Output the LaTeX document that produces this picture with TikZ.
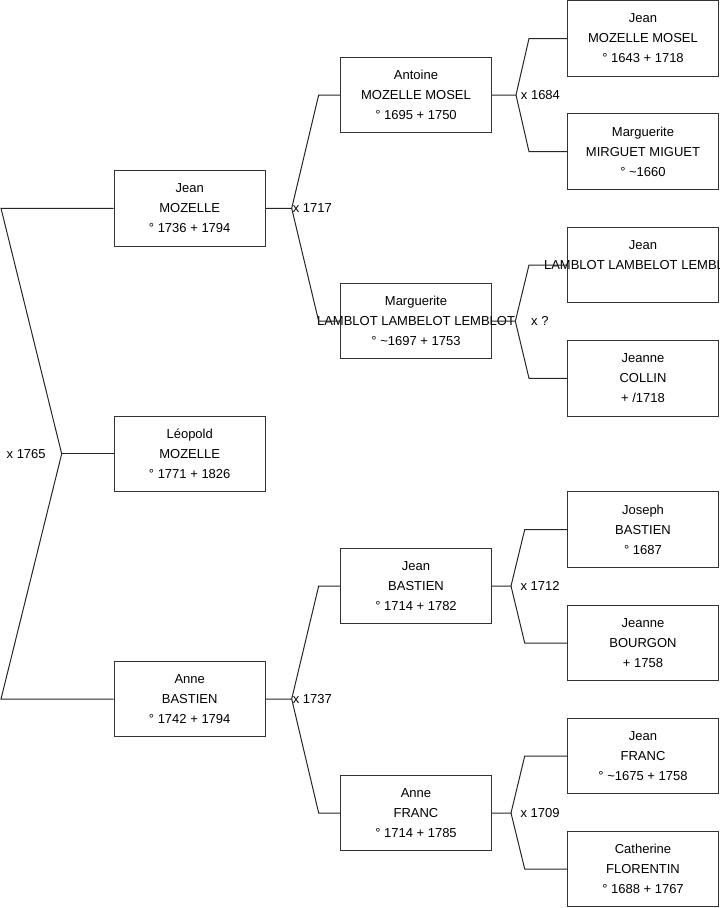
\documentclass[tikz,border=0pt]{standalone}
\usepackage{fontspec}
\setmainfont{Liberation Sans}
\usetikzlibrary{positioning}

\begin{document}
\begin{tikzpicture}[
  x=0.75pt, y=-0.75pt,
  font=\fontsize{9.75}{15}\selectfont,
  box/.style={draw=black!80, line width=0.75pt, minimum width=113.25pt, minimum height=56.6pt, align=center, inner sep=0pt},
  link/.style={draw=black!85, line width=0.75pt},
  wed/.style={inner sep=0pt}
]
\useasboundingbox (0,0) rectangle (719,908);

% generation 1
\node[box] (jean) at (189.7,208.3) {Jean\\MOZELLE\\° 1736 + 1794};
\node[box] (leopold) at (189.7,453.8) {Léopold\\MOZELLE\\° 1771 + 1826};
\node[box] (anne) at (189.7,699) {Anne\\BASTIEN\\° 1742 + 1794};

% generation 2
\node[box] (antoine) at (416,95) {Antoine\\MOZELLE MOSEL\\° 1695 + 1750};
\node[box] (marguerite) at (416,321.2) {Marguerite\\\makebox[0pt]{LAMBLOT LAMBELOT LEMBLOT}\\° \textasciitilde1697 + 1753};
\node[box] (jeanb) at (416,586) {Jean\\BASTIEN\\° 1714 + 1782};
\node[box] (annef) at (416,813) {Anne\\FRANC\\° 1714 + 1785};

% generation 3
\node[box] (jmosel) at (643,38.5) {Jean\\MOZELLE MOSEL\\° 1643 + 1718};
\node[box] (mmirguet) at (643,151.7) {Marguerite\\MIRGUET MIGUET\\° \textasciitilde1660};
\node[box] (jlamblot) at (643,265) {Jean\\\makebox[0pt]{LAMBLOT LAMBELOT LEMBLOT}\\\mbox{}};
\node[box] (jcollin) at (643,378.3) {Jeanne\\COLLIN\\+ /1718};
\node[box] (joseph) at (643,529.5) {Joseph\\BASTIEN\\° 1687};
\node[box] (jbourgon) at (643,643) {Jeanne\\BOURGON\\+ 1758};
\node[box] (jfranc) at (643,756) {Jean\\FRANC\\° \textasciitilde1675 + 1758};
\node[box] (catherine) at (643,869) {Catherine\\FLORENTIN\\° 1688 + 1767};

% couples
\coordinate (edge) at (1,0);
\coordinate (w1765) at (61.7,453.8);
\draw[link] (jean.west) -- (jean.west -| edge) -- (w1765) -- (anne.west -| edge) -- (anne.west);
\draw[link] (w1765) -- (leopold.west);

\coordinate (w1717) at ([xshift=19.5pt]jean.east);
\draw[link] (jean.east) -- (w1717) -- ([xshift=-16pt]antoine.west) -- (antoine.west);
\draw[link] (w1717) -- ([xshift=-16pt]marguerite.west) -- (marguerite.west);

\coordinate (w1737) at ([xshift=19.5pt]anne.east);
\draw[link] (anne.east) -- (w1737) -- ([xshift=-16pt]jeanb.west) -- (jeanb.west);
\draw[link] (w1737) -- ([xshift=-16pt]annef.west) -- (annef.west);

\coordinate (w1684) at ([xshift=18pt]antoine.east);
\draw[link] (antoine.east) -- (w1684) -- ([xshift=-28.5pt]jmosel.west) -- (jmosel.west);
\draw[link] (w1684) -- ([xshift=-28.5pt]mmirguet.west) -- (mmirguet.west);

\coordinate (wlamblot) at ([xshift=17.5pt]marguerite.east);
\draw[link] (marguerite.east) -- (wlamblot) -- ([xshift=-28.5pt]jlamblot.west) -- (jlamblot.west);
\draw[link] (wlamblot) -- ([xshift=-28.5pt]jcollin.west) -- (jcollin.west);

\coordinate (w1712) at ([xshift=14.25pt]jeanb.east);
\draw[link] (jeanb.east) -- (w1712) -- ([xshift=-31.7pt]joseph.west) -- (joseph.west);
\draw[link] (w1712) -- ([xshift=-31.7pt]jbourgon.west) -- (jbourgon.west);

\coordinate (w1709) at ([xshift=14.25pt]annef.east);
\draw[link] (annef.east) -- (w1709) -- ([xshift=-31.7pt]jfranc.west) -- (jfranc.west);
\draw[link] (w1709) -- ([xshift=-31.7pt]catherine.west) -- (catherine.west);

% wedding labels
\node[wed, left=11.8pt of w1765] (l1765) {x 1765};
\node[wed, right=0.6pt of w1717] (l1717) {x 1717};
\node[wed, right=0.6pt of w1737] (l1737) {x 1737};
\node[wed, right=3.5pt of w1684] (l1684) {x 1684};
\node[wed, right=11.7pt of wlamblot] (llamblot) {x ?};
\node[wed, right=7pt of w1712] (l1712) {x 1712};
\node[wed, right=7pt of w1709] (l1709) {x 1709};

\end{tikzpicture}
\end{document}
